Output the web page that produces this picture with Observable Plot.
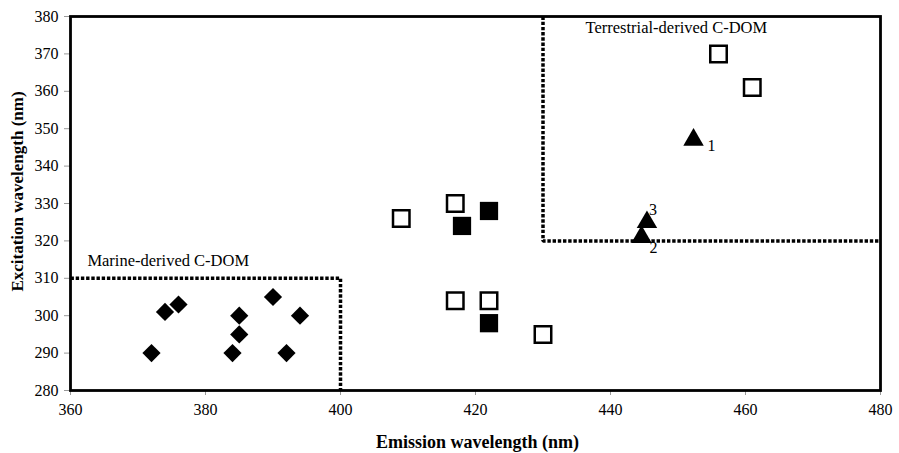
<!DOCTYPE html>
<html>
<head>
<meta charset="utf-8">
<script src="https://cdn.jsdelivr.net/npm/d3@7"></script>
<script src="https://cdn.jsdelivr.net/npm/@observablehq/plot@0.6"></script>
<style>
  html, body { margin: 0; padding: 0; background: #fff; }
  svg { display: block; }
  svg, svg text { font-family: "Liberation Serif", "Times New Roman", "DejaVu Serif", serif !important; }
</style>
</head>
<body>
<div id="chart"></div>
<script>
// Marine-derived C-DOM (diamonds)
const marineEm = [372, 374, 376, 384, 385, 385, 390, 392, 394];
const marineEx = [290, 301, 303, 290, 300, 295, 305, 290, 300];
// Open squares
const openEm = [409, 417, 417, 422, 430, 456, 461];
const openEx = [326, 330, 304, 304, 295, 370, 361];
// Filled squares
const filledEm = [418, 422, 422];
const filledEx = [324, 328, 298];
// Triangles (numbered)
const triEm = [452.3, 444.6, 445.4];
const triEx = [347, 321, 325];
const triLabels = ["1", "2", "3"];
// Boundary boxes
const marineBoxEm = [360, 400, 400];
const marineBoxEx = [310, 310, 280];
const terrBoxEm = [430, 430, 480];
const terrBoxEx = [380, 320, 320];
// Tick values
const xTicks = [360, 380, 400, 420, 440, 460, 480];
const yTicks = [280, 290, 300, 310, 320, 330, 340, 350, 360, 370, 380];

const zip = (xs, ys, extra) => xs.map((x, i) => ({x, y: ys[i], ...(extra ? {label: extra[i]} : {})}));
const marine = zip(marineEm, marineEx);
const open = zip(openEm, openEx);
const filled = zip(filledEm, filledEx);
const tri = zip(triEm, triEx, triLabels);

const serif = "Liberation Serif";
const labelDx = [14, 8, 2];
const labelDy = [11, 16, -7];

const dashed = {x: "x", y: "y", stroke: "#000", strokeWidth: 3.5, strokeDasharray: "3.4,1.8", strokeLinecap: "butt", strokeLinejoin: "miter"};

const chart = Plot.plot({
  width: 899,
  height: 453,
  marginLeft: 70,
  marginRight: 19,
  marginTop: 16,
  marginBottom: 63,
  style: {fontFamily: serif, fontSize: "16px", color: "#000", background: "#fff"},
  x: {domain: [360, 480], ticks: xTicks, label: null},
  y: {domain: [280, 380], ticks: yTicks, label: null},
  marks: [
    Plot.axisX({ticks: xTicks, tickSize: 5, tickPadding: 8, stroke: "#999", fill: "#000", fontSize: 16, fontFamily: serif, label: null}),
    Plot.axisY({ticks: yTicks, tickSize: 6, tickPadding: 6, stroke: "#999", fill: "#000", fontSize: 16, fontFamily: serif, label: null}),
    Plot.line(zip(marineBoxEm, marineBoxEx), dashed),
    Plot.line(zip(terrBoxEm, terrBoxEx), dashed),
    Plot.frame({stroke: "#000", strokeWidth: 2.8}),
    Plot.dot(marine, {x: "x", y: "y", symbol: "diamond2", r: 8.2, fill: "#000", stroke: "none"}),
    Plot.dot(open, {x: "x", y: "y", symbol: "square", r: 9.3, fill: "#fff", stroke: "#000", strokeWidth: 2.5}),
    Plot.dot(filled, {x: "x", y: "y", symbol: "square", r: 10.3, fill: "#000", stroke: "none"}),
    Plot.dot(tri, {x: "x", y: "y", symbol: "triangle", r: 7.6, fill: "#000", stroke: "none"}),
    ...tri.map((d, i) => Plot.text([d], {x: "x", y: "y", text: "label", dx: labelDx[i], dy: labelDy[i], textAnchor: "start", lineAnchor: "bottom", fontSize: 16, fontFamily: serif, fill: "#000"})),
    Plot.text(["Marine-derived C-DOM"], {x: 362.5, y: 313.2, textAnchor: "start", lineAnchor: "bottom", fontSize: 16.5, fontFamily: serif, fill: "#000"}),
    Plot.text(["Terrestrial-derived C-DOM"], {x: 436.3, y: 375.5, textAnchor: "start", lineAnchor: "bottom", fontSize: 16.5, fontFamily: serif, fill: "#000"}),
    Plot.text(["Emission wavelength (nm)"], {frameAnchor: "bottom", dx: 2, dy: 57, textAnchor: "middle", lineAnchor: "bottom", fontSize: 18, fontWeight: "bold", fontFamily: serif, fill: "#000"}),
    Plot.text(["Excitation wavelength (nm)"], {frameAnchor: "left", dx: -53, dy: -12, rotate: -90, textAnchor: "middle", lineAnchor: "middle", fontSize: 17, fontWeight: "bold", fontFamily: serif, fill: "#000"})
  ]
});
document.getElementById("chart").appendChild(chart);
</script>
</body>
</html>
